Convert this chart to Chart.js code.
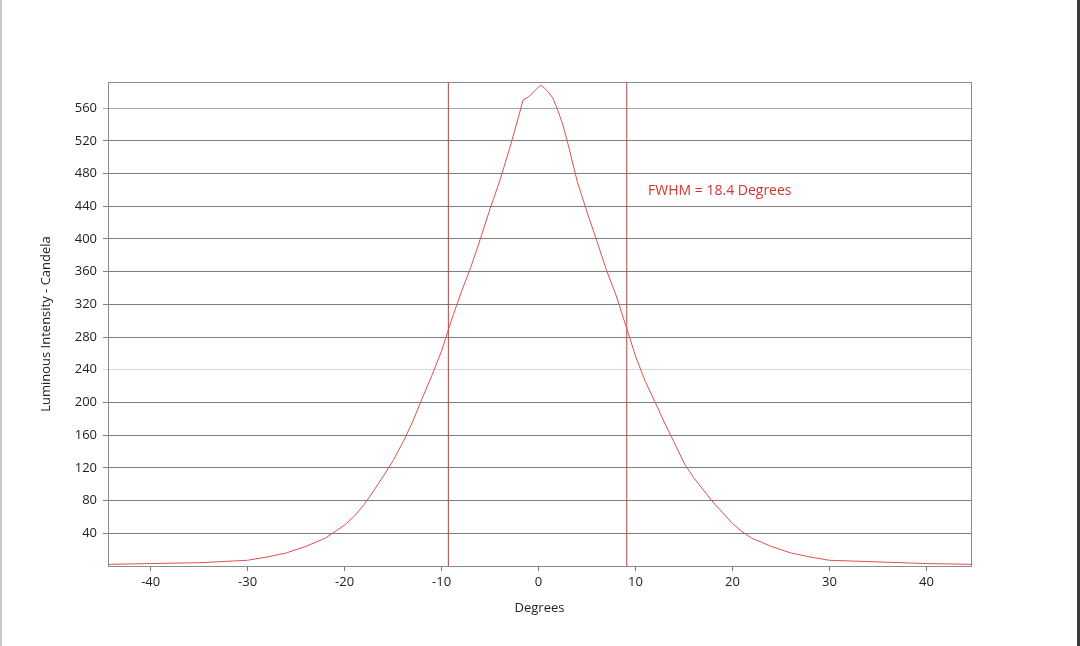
<!DOCTYPE html>
<html>
<head>
<meta charset="utf-8">
<script src="https://cdn.jsdelivr.net/npm/chart.js@4/dist/chart.umd.min.js"></script>
<style>
  html, body { margin: 0; padding: 0; background: #fff; }
  #wrap { position: relative; width: 1080px; height: 646px; }
  #wrap::before { content: ""; position: absolute; left: 0; top: 0; width: 2px; height: 646px; background: #c8c8c8; }
  #wrap::after { content: ""; position: absolute; right: 0; top: 0; width: 3px; height: 646px; background: #3a3a3a; }
  canvas { display: block; }
</style>
</head>
<body>
<div id="wrap"><canvas id="c" width="1080" height="646"></canvas></div>
<script>
// ---- Data ----
const degrees = [-44.4, -40, -35, -30, -28, -26, -24, -22, -21, -20, -19, -18, -17, -16, -15, -14, -13, -12, -11, -10, -9, -8, -7, -6, -5, -4, -3, -2, -1.6, -1, -0.5, 0, 0.3, 1, 1.5, 2, 2.5, 3, 4, 5, 6, 7, 8, 9, 10, 11, 12, 13, 14, 15, 16, 17, 18, 19, 20, 21, 22, 24, 26, 28, 30, 35, 40, 44.6];
const candela = [2, 3, 4, 7, 11, 16, 24, 34, 42, 50, 61, 75, 92, 110, 129, 151, 176, 205, 233, 263, 300, 334, 365, 400, 437, 471, 510, 552, 570, 574, 580, 586, 588, 580, 572, 557, 540, 518, 470, 433, 398, 362, 331, 294, 257, 226, 201, 175, 151, 126, 108, 93, 78, 65, 52, 42, 34, 24, 16, 11, 7, 5, 3, 2];
const fwhmLeft = -9.3;
const fwhmRight = 9.1;
const fwhmLabel = "FWHM = 18.4 Degrees";
const fwhmLabelPos = [11.3, 459];
const xTicks = [-40, -30, -20, -10, 0, 10, 20, 30, 40];
const yTicks = [40, 80, 120, 160, 200, 240, 280, 320, 360, 400, 440, 480, 520, 560];
const xRange = [-44.4, 44.6];
const yRange = [0, 592];
const xTitle = "Degrees";
const yTitle = "Luminous Intensity - Candela";

const FONT = "'Open Sans', 'DejaVu Sans', sans-serif";

const frame = {
  id: 'frame',
  afterDatasetsDraw(chart) {
    const {ctx, chartArea: a, scales} = chart;
    ctx.save();
    ctx.strokeStyle = '#8a8a8a';
    ctx.lineWidth = 1;
    ctx.strokeRect(Math.round(a.left) + 0.5, Math.round(a.top) + 0.5, Math.round(a.right - a.left), Math.round(a.bottom - a.top));
    ctx.fillStyle = '#d9332f';
    ctx.font = "14px " + FONT;
    ctx.textBaseline = 'middle';
    ctx.textAlign = 'left';
    ctx.fillText(fwhmLabel, scales.x.getPixelForValue(fwhmLabelPos[0]), scales.y.getPixelForValue(fwhmLabelPos[1]));
    ctx.restore();
  }
};

new Chart(document.getElementById('c'), {
  type: 'scatter',
  data: {
    datasets: [
      {
        data: degrees.map((d, i) => ({x: d, y: candela[i]})),
        showLine: true, borderColor: '#e05050', borderWidth: 1, pointRadius: 0, tension: 0, fill: false
      },
      {
        data: [{x: fwhmLeft, y: yRange[0]}, {x: fwhmLeft, y: yRange[1]}],
        showLine: true, borderColor: '#b04545', borderWidth: 1, pointRadius: 0
      },
      {
        data: [{x: fwhmRight, y: yRange[0]}, {x: fwhmRight, y: yRange[1]}],
        showLine: true, borderColor: '#b04545', borderWidth: 1, pointRadius: 0
      }
    ]
  },
  options: {
    responsive: false,
    animation: false,
    events: [],
    layout: { padding: { left: 34, right: 109, top: 82, bottom: 26 } },
    plugins: { legend: { display: false }, tooltip: { enabled: false } },
    scales: {
      x: {
        type: 'linear', min: xRange[0], max: xRange[1],
        afterBuildTicks: s => { s.ticks = xTicks.map(v => ({value: v})); },
        afterFit: s => { s.height = 54; },
        grid: { drawOnChartArea: false, drawTicks: true, tickLength: 5, color: '#777' },
        border: { color: '#8a8a8a' },
        ticks: { color: '#222', font: { family: FONT, size: 13 }, padding: 3, maxRotation: 0 },
        title: { display: true, text: xTitle, color: '#222', font: { family: FONT, size: 13 }, padding: { top: 6, bottom: 4 } }
      },
      y: {
        type: 'linear', min: yRange[0], max: yRange[1],
        afterBuildTicks: s => { s.ticks = yTicks.map(v => ({value: v})); },
        afterFit: s => { s.width = 74; },
        grid: {
          drawTicks: true, tickLength: 5,
          color: c => (c.tick && c.tick.value === 240) ? '#d6d6d6' : (c.tick && c.tick.value === 560 ? '#a8a8a8' : '#7e7e7e')
        },
        border: { color: '#8a8a8a' },
        ticks: { color: '#222', font: { family: FONT, size: 13 }, padding: 6 },
        title: { display: true, text: yTitle, color: '#222', font: { family: FONT, size: 13 }, padding: { top: 4, bottom: 4 } }
      }
    }
  },
  plugins: [frame]
});
</script>
</body>
</html>
